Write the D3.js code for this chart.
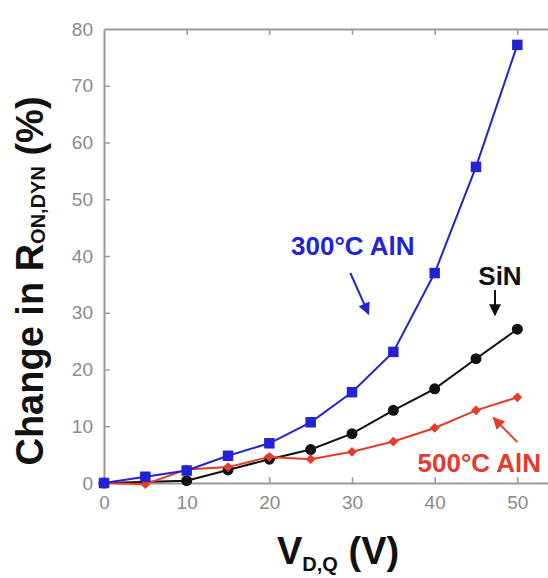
<!DOCTYPE html>
<html>
<head>
<meta charset="utf-8">
<script src="https://cdnjs.cloudflare.com/ajax/libs/d3/7.8.5/d3.min.js"></script>
<style>
  body { margin: 0; background: #fff; }
  svg { display: block; font-family: 'Liberation Sans', Arial, sans-serif; }
  .tick text { fill: #8a8a8a; font-size: 19px; }
  .tick line { stroke: #9a9a9a; stroke-width: 1.5; }
  .domain { stroke: #9a9a9a; stroke-width: 2; }
</style>
</head>
<body>
<div id="chart"></div>
<script>
// drain-quiescent voltage (V)
var volts = [0, 5, 10, 15, 20, 25, 30, 35, 40, 45, 50];
// change in R_ON,DYN (%)
var aln300 = [0, 1.1, 2.2, 4.8, 7.0, 10.7, 16.0, 23.1, 37.0, 55.7, 77.2];
var sinVals = [0, null, 0.4, 2.3, 4.2, 5.9, 8.7, 12.8, 16.6, 21.9, 27.1];
var aln500 = [0, -0.2, 2.4, 2.8, 4.6, 4.2, 5.5, 7.3, 9.7, 12.8, 15.1];

var xTicks = [0, 10, 20, 30, 40, 50];
var yTicks = [0, 10, 20, 30, 40, 50, 60, 70, 80];

var width = 548;
var height = 578;

var svg = d3.select('#chart').append('svg')
  .attr('width', width)
  .attr('height', height);

var xScale = d3.scaleLinear()
  .domain([0, 60])
  .range([104, 600]);

var yScale = d3.scaleLinear()
  .domain([0, 80])
  .range([483, 29]);

// arrow heads
var defs = svg.append('defs');
[['blue', '#2323d6'], ['black', '#111'], ['red', '#e53b2c']].forEach(function(c) {
  defs.append('marker')
    .attr('id', 'arrow-' + c[0])
    .attr('viewBox', '0 0 10 10')
    .attr('refX', 9)
    .attr('refY', 5)
    .attr('markerUnits', 'userSpaceOnUse')
    .attr('markerWidth', 13)
    .attr('markerHeight', 12)
    .attr('orient', 'auto')
    .append('path')
    .attr('d', 'M0,0L10,5L0,10z')
    .attr('fill', c[1]);
});

// frame: top and right edges
svg.append('g')
  .attr('transform', 'translate(0,' + yScale(80) + ')')
  .call(d3.axisTop(xScale).tickValues(xTicks).tickSizeInner(-6).tickSizeOuter(0).tickFormat(''));

svg.append('g')
  .attr('transform', 'translate(' + xScale(60) + ',0)')
  .call(d3.axisRight(yScale).tickValues(yTicks).tickSizeInner(-6).tickSizeOuter(0).tickFormat(''));

// axes
svg.append('g')
  .attr('transform', 'translate(0,' + yScale(0) + ')')
  .call(d3.axisBottom(xScale).tickValues(xTicks).tickSizeInner(-6).tickSizeOuter(0).tickPadding(13));

svg.append('g')
  .attr('transform', 'translate(' + xScale(0) + ',0)')
  .call(d3.axisLeft(yScale).tickValues(yTicks).tickSizeInner(-6).tickSizeOuter(0).tickPadding(11));

// hide ticks that sit on the corners
svg.selectAll('.tick').filter(function(d) { return d === 0 || d === 80; })
  .select('line').remove();

var line = d3.line()
  .x(function(d) { return xScale(d.v); })
  .y(function(d) { return yScale(d.r); });

function toPoints(vals) {
  return volts.map(function(v, i) { return { v: v, r: vals[i] }; })
    .filter(function(d) { return d.r !== null; });
}

var series = [
  { name: 'sin', color: '#111111', points: toPoints(sinVals), symbol: d3.symbolCircle, size: 95, rot: 0 },
  { name: 'aln500', color: '#e53b2c', points: toPoints(aln500), symbol: d3.symbolSquare, size: 48, rot: 45 },
  { name: 'aln300', color: '#2323d6', points: toPoints(aln300), symbol: d3.symbolSquare, size: 110, rot: 0 }
];

series.forEach(function(s) {
  svg.append('path')
    .datum(s.points)
    .attr('fill', 'none')
    .attr('stroke', s.color)
    .attr('stroke-width', 2)
    .attr('d', line);

  svg.selectAll('.pt-' + s.name)
    .data(s.points)
    .enter()
    .append('path')
    .attr('class', 'pt-' + s.name)
    .attr('transform', function(d) {
      return 'translate(' + xScale(d.v) + ',' + yScale(d.r) + ') rotate(' + s.rot + ')';
    })
    .attr('d', d3.symbol().type(s.symbol).size(s.size))
    .attr('fill', s.color);
});

// annotations
var notes = [
  { text: '300°C AlN', color: '#2323d6', id: 'blue', x: 30.1, y: 40.2, from: [29.8, 37.0], to: [32.0, 29.8] },
  { text: 'SiN', color: '#111', id: 'black', x: 47.9, y: 34.9, from: [47.3, 34.0], to: [47.3, 29.6] },
  { text: '500°C AlN', color: '#e53b2c', id: 'red', x: 45.4, y: 1.9, from: [50.0, 7.2], to: [47.1, 11.5] }
];

notes.forEach(function(n) {
  svg.append('text')
    .attr('x', xScale(n.x))
    .attr('y', yScale(n.y))
    .attr('text-anchor', 'middle')
    .attr('font-size', '26px')
    .attr('font-weight', 'bold')
    .attr('fill', n.color)
    .text(n.text);

  svg.append('line')
    .attr('x1', xScale(n.from[0]))
    .attr('y1', yScale(n.from[1]))
    .attr('x2', xScale(n.to[0]))
    .attr('y2', yScale(n.to[1]))
    .attr('stroke', n.color)
    .attr('stroke-width', 2)
    .attr('marker-end', 'url(#arrow-' + n.id + ')');
});

// axis titles
var yTitle = svg.append('text')
  .attr('transform', 'translate(43,281) rotate(-90)')
  .attr('text-anchor', 'middle')
  .attr('font-size', '38px')
  .attr('font-weight', 'bold')
  .attr('fill', '#111');
yTitle.append('tspan').text('Change in R');
yTitle.append('tspan').attr('font-size', '20px').attr('dy', 2).text('ON,DYN');
yTitle.append('tspan').attr('dy', -2).text(' (%)');

var xTitle = svg.append('text')
  .attr('x', 277)
  .attr('y', 564)
  .attr('font-size', '38px')
  .attr('font-weight', 'bold')
  .attr('fill', '#111');
xTitle.append('tspan').text('V');
xTitle.append('tspan').attr('font-size', '20px').attr('dy', 7).text('D,Q');
xTitle.append('tspan').attr('dy', -7).text(' (V)');
</script>
</body>
</html>
